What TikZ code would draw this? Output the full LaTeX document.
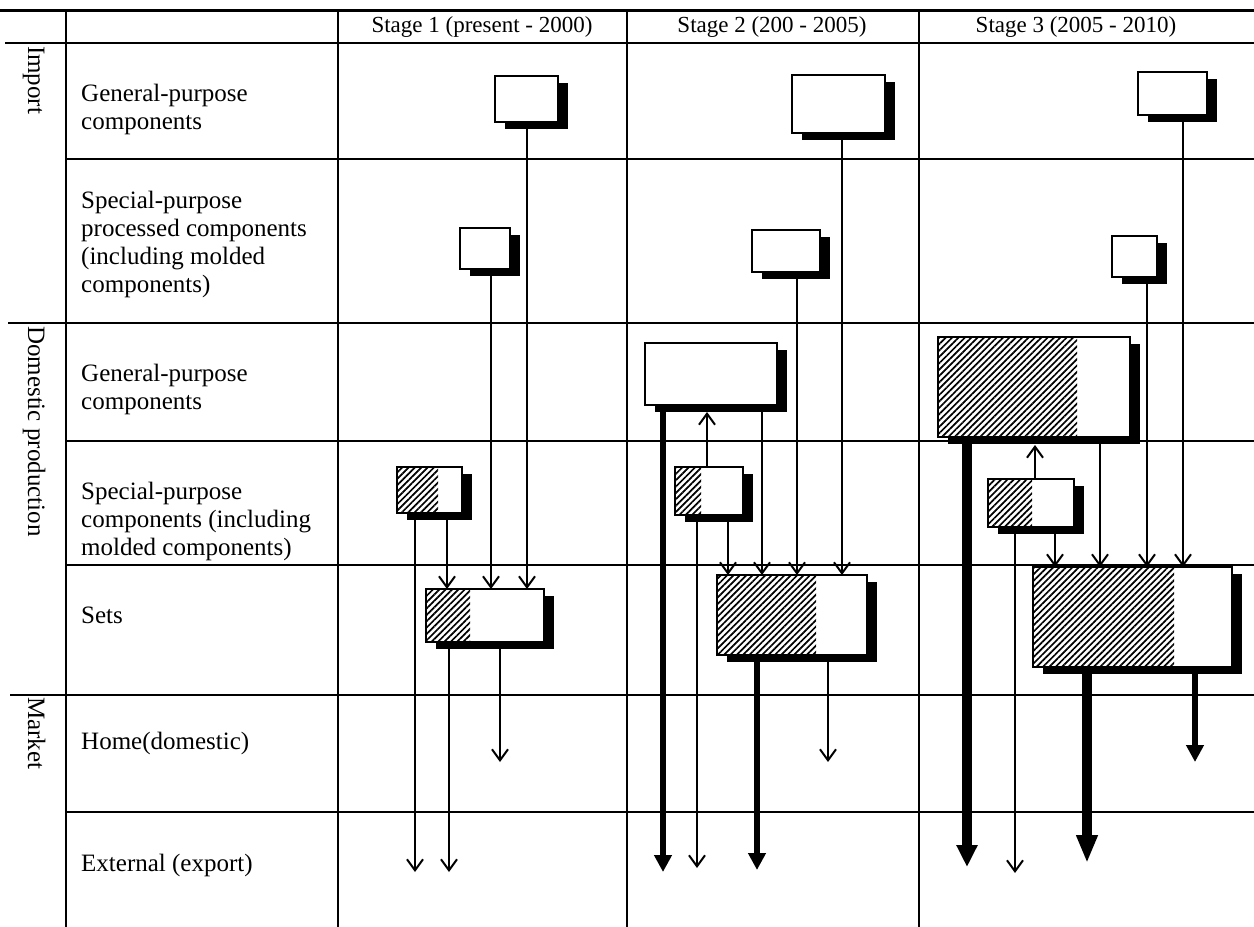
\documentclass[tikz,border=0pt]{standalone}
\usepackage{fontspec}
\setmainfont{Liberation Serif}
\usetikzlibrary{arrows.meta,shadows,patterns.meta}
\tikzset{
  gridh/.style={line width=1.6pt},
  gridv/.style={line width=2.6pt},
  fbox/.style={draw, line width=2pt, fill=white, inner sep=0pt, outer sep=0pt, anchor=north west,
    drop shadow={shadow xshift=10pt, shadow yshift=-7pt, fill=black, opacity=1}},
  hatchst/.style={pattern={Lines[angle=45,distance=4.5pt,line width=1.7pt]}},
  lbl/.style={anchor=west, align=left, inner sep=0pt, font=\fontsize{25}{28}\selectfont},
  rotlbl/.style={rotate=-90, anchor=base west, inner sep=0pt, font=\fontsize{25}{28}\selectfont},
  hdr/.style={inner sep=0pt, font=\fontsize{23}{26}\selectfont},
  thinarr/.style={line width=2.3pt, -{Straight Barb[length=11pt,width=16pt,line width=2pt]}},
  thinln/.style={line width=2.3pt},
  medarr/.style={line width=6pt, -{Triangle[length=17pt,width=17pt]}},
  bigarr/.style={line width=10pt, -{Triangle[length=22pt,width=20pt]}},
}
\newcommand{\mkbox}[5]{\node[fbox, minimum width={(#4-#2)*1pt}, minimum height={(#5-#3)*1pt}] (#1) at (#2,#3) {};}
\newcommand{\mkhatch}[5]{\fill[hatchst] (#2,#3) rectangle (#4,#5);
  \draw[line width=2pt] (#1.north west) rectangle (#1.south east);}
\begin{document}
\begin{tikzpicture}[x=1pt,y=-1pt]
\useasboundingbox (0,0) rectangle (1254,927);
\fill[white] (0,0) rectangle (1254,927);
% grid
\draw[line width=3pt] (0,10) -- (1254,10);
\draw[gridh] (5,43) -- (1254,43);
\draw[gridh] (66,159) -- (1254,159);
\draw[gridh] (8,323) -- (1254,323);
\draw[gridh] (66,441) -- (1254,441);
\draw[gridh] (66,565) -- (1254,565);
\draw[gridh] (10,695) -- (1254,695);
\draw[gridh] (66,812) -- (1254,812);
\draw[gridv] (66,10) -- (66,927);
\draw[gridv] (338,10) -- (338,927);
\draw[gridv] (627,10) -- (627,927);
\draw[gridv] (919,10) -- (919,927);
% headers
\node[hdr] (h1) at (482,27) {Stage 1 (present - 2000)};
\node[hdr] (h2) at (772,27) {Stage 2 (200 - 2005)};
\node[hdr] (h3) at (1076,27) {Stage 3 (2005 - 2010)};
% section labels
\node[rotlbl] (sImp) at (28,46) {Import};
\node[rotlbl] (sDom) at (28,326) {Domestic production};
\node[rotlbl] (sMkt) at (28,697) {Market};
% row labels
\node[lbl] (r1) at (81,109) {General-purpose\\components};
\node[lbl] (r2) at (81,244) {Special-purpose\\processed components\\(including molded\\components)};
\node[lbl] (r3) at (81,389) {General-purpose\\components};
\node[lbl] (r4) at (81,521) {Special-purpose\\components (including\\molded components)};
\node[lbl] (r5) at (81,615) {Sets};
\node[lbl] (r6) at (81,743) {Home(domestic)};
\node[lbl] (r7) at (81,865) {External (export)};
% boxes
\mkbox{B1g}{495}{76}{558}{122}
\mkbox{B1s}{460}{228}{510}{269}
\mkbox{B2g}{792}{75}{885}{133}
\mkbox{B2s}{752}{230}{820}{272}
\mkbox{B3g}{1138}{72}{1207}{115}
\mkbox{B3s}{1112}{236}{1157}{277}
\mkbox{D1s}{397}{467}{462}{513}
\mkhatch{D1s}{397}{467}{438}{513}
\mkbox{D2g}{645}{343}{777}{405}
\mkbox{D2s}{675}{467}{743}{515}
\mkhatch{D2s}{675}{467}{701}{515}
\mkbox{D3g}{938}{337}{1130}{437}
\mkhatch{D3g}{938}{337}{1077}{437}
\mkbox{D3s}{988}{479}{1074}{527}
\mkhatch{D3s}{988}{479}{1032}{527}
\mkbox{S1}{426}{589}{544}{642}
\mkhatch{S1}{426}{589}{470}{642}
\mkbox{S2}{717}{575}{867}{655}
\mkhatch{S2}{717}{575}{816}{655}
\mkbox{S3}{1033}{567}{1232}{667}
\mkhatch{S3}{1033}{567}{1174}{667}
% free ends
\coordinate (e1a) at (415,872);
\coordinate (e1b) at (449,872);
\coordinate (h1a) at (500,762);
\coordinate (e2a) at (663,872);
\coordinate (e2b) at (697,868);
\coordinate (e2c) at (757,870);
\coordinate (h2a) at (828,762);
\coordinate (e3a) at (967,867);
\coordinate (e3b) at (1015,873);
\coordinate (e3c) at (1087,863);
\coordinate (h3a) at (1195,762);
% stage 1 connectors
\draw[thinarr] (B1g.south -| 527,0) -- (S1.north -| 527,0);
\draw[thinarr] (B1s.south -| 491,0) -- (S1.north -| 491,0);
\draw[thinarr] (D1s.south -| 447,0) -- (S1.north -| 447,0);
\draw[thinarr] (D1s.south -| e1a) -- (e1a);
\draw[thinarr] (S1.south -| e1b) -- (e1b);
\draw[thinarr] (S1.south -| h1a) -- (h1a);
% stage 2 connectors
\draw[thinarr] (B2g.south -| 842,0) -- (S2.north -| 842,0);
\draw[thinarr] (B2s.south -| 797,0) -- (S2.north -| 797,0);
\draw[thinarr] (D2g.south -| 762,0) -- (S2.north -| 762,0);
\draw[thinarr] (D2s.south -| 728,0) -- (S2.north -| 728,0);
\draw[thinarr, shorten >=7pt] (D2s.north -| 707,0) -- (D2g.south -| 707,0);
\draw[medarr] (D2g.south -| e2a) -- (e2a);
\draw[thinarr] (D2s.south -| e2b) -- (e2b);
\draw[medarr] (S2.south -| e2c) -- (e2c);
\draw[thinarr] (S2.south -| h2a) -- (h2a);
% stage 3 connectors
\draw[thinarr] (B3g.south -| 1183,0) -- (S3.north -| 1183,0);
\draw[thinarr] (B3s.south -| 1147,0) -- (S3.north -| 1147,0);
\draw[thinarr] (D3g.south -| 1100,0) -- (S3.north -| 1100,0);
\draw[thinarr] (D3s.south -| 1055,0) -- (S3.north -| 1055,0);
\draw[thinarr, shorten >=8pt] (D3s.north -| 1035,0) -- (D3g.south -| 1035,0);
\draw[bigarr] (D3g.south -| e3a) -- (e3a);
\draw[thinarr] (D3s.south -| e3b) -- (e3b);
\draw[bigarr, -{Triangle[length=28pt,width=20pt]}] (S3.south -| e3c) -- (e3c);
\draw[medarr] (S3.south -| h3a) -- (h3a);
\end{tikzpicture}
\end{document}
